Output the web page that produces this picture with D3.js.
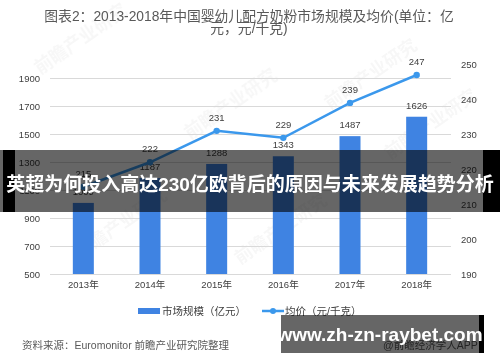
<!DOCTYPE html>
<html><head><meta charset="utf-8">
<script src="https://cdn.jsdelivr.net/npm/d3@7"></script>
<style>body{margin:0;background:#fff}svg{display:block}text{font-family:"Liberation Sans","Noto Sans CJK SC",sans-serif}</style>
</head><body>
<svg id="c" width="500" height="362"></svg>
<script>
const categories = ["2013年","2014年","2015年","2016年","2017年","2018年"];
const marketSize = [1009,1187,1288,1343,1487,1626];
const avgPrice = [215,222,231,229,239,247];
const leftTicks = [500,700,900,1100,1300,1500,1700,1900];
const rightTicks = [190,200,210,220,230,240,250];
const titleLines = ["图表2：2013-2018年中国婴幼儿配方奶粉市场规模及均价(单位：亿","元，元/千克)"];
const legendLabels = ["市场规模（亿元）","均价（元/千克）"];
const sourceText = "资料来源：Euromonitor 前瞻产业研究院整理";
const overlayText = "英超为何投入高达230亿欧背后的原因与未来发展趋势分析";
const siteText = "www.zh-zn-raybet.com";
const credit = "@前瞻经济学人APP";

const svg = d3.select("#c");
const barColor = "#3f83e2", lineColor = "#3b98ec", txt = "#404040";

const x = d3.scaleBand().domain(categories).range([50,450]).paddingInner(0.685).paddingOuter(0.3425);
const yL = d3.scaleLinear().domain([500,2000]).range([274,64.5]);
const yR = d3.scaleLinear().domain([190,250]).range([274,64.5]);

// faint watermarks
const wm = svg.append("g").attr("fill","#000").attr("opacity",0.035).attr("font-size",18).attr("font-weight","bold");
[[40,75],[190,140],[330,110],[80,260],[240,265],[390,160]].forEach(p=>{
  wm.append("text").attr("transform",`translate(${p[0]},${p[1]}) rotate(-35)`).text("前瞻产业研究");
});

// title
svg.append("g").selectAll("text").data(titleLines).join("text")
  .attr("x",249).attr("y",(d,i)=>21+i*12).attr("text-anchor","middle")
  .attr("font-size",13.8).attr("fill","#595959").text(d=>d);

// gridlines
svg.append("g").selectAll("line").data(leftTicks).join("line")
  .attr("x1",50).attr("x2",451).attr("y1",d=>Math.round(yL(d))+0.5).attr("y2",d=>Math.round(yL(d))+0.5)
  .attr("stroke","#d9d9d9").attr("stroke-width",1);

// left axis
const axL = svg.append("g").attr("transform","translate(44,0)")
  .call(d3.axisLeft(yL).tickValues(leftTicks).tickSize(0).tickPadding(4).tickFormat(d3.format("d")));
axL.select(".domain").remove();
axL.selectAll("text").attr("font-size",9.5).attr("fill",txt).attr("font-family","Liberation Sans");

// right axis
const axR = svg.append("g").attr("transform","translate(457,0)")
  .call(d3.axisRight(yR).tickValues(rightTicks).tickSize(0).tickPadding(4).tickFormat(d3.format("d")));
axR.select(".domain").remove();
axR.selectAll("text").attr("font-size",9.5).attr("fill",txt).attr("font-family","Liberation Sans");

// x axis
const axX = svg.append("g").attr("transform","translate(0,281)")
  .call(d3.axisBottom(x).tickSize(0).tickPadding(0));
axX.select(".domain").remove();
axX.selectAll("text").attr("font-size",9.5).attr("fill",txt).attr("dy","0.71em");

// bars
svg.append("g").selectAll("rect").data(marketSize).join("rect")
  .attr("x",(d,i)=>x(categories[i])).attr("width",x.bandwidth())
  .attr("y",d=>yL(d)).attr("height",d=>yL(500)-yL(d)).attr("fill",barColor);
svg.append("g").selectAll("text").data(marketSize).join("text")
  .attr("x",(d,i)=>x(categories[i])+x.bandwidth()/2).attr("y",d=>yL(d)-8)
  .attr("text-anchor","middle").attr("font-size",9.5).attr("fill",txt).text(d=>d);

// line
const cx = i=>x(categories[i])+x.bandwidth()/2;
svg.append("path").datum(avgPrice)
  .attr("d",d3.line().x((d,i)=>cx(i)).y(d=>yR(d)))
  .attr("fill","none").attr("stroke",lineColor).attr("stroke-width",2.5);
svg.append("g").selectAll("circle").data(avgPrice).join("circle")
  .attr("cx",(d,i)=>cx(i)).attr("cy",d=>yR(d)).attr("r",3.2).attr("fill",lineColor);
svg.append("g").selectAll("text").data(avgPrice).join("text")
  .attr("x",(d,i)=>cx(i)).attr("y",d=>yR(d)-10)
  .attr("text-anchor","middle").attr("font-size",9.5).attr("fill",txt).text(d=>d);

// legend
const lg = svg.append("g");
lg.append("rect").attr("x",138).attr("y",308).attr("width",22).attr("height",6).attr("fill",barColor);
lg.append("text").attr("x",162).attr("y",315).attr("font-size",10.5).attr("fill",txt).text(legendLabels[0]);
lg.append("line").attr("x1",262).attr("x2",284).attr("y1",311).attr("y2",311).attr("stroke",lineColor).attr("stroke-width",2.5);
lg.append("circle").attr("cx",273).attr("cy",311).attr("r",3).attr("fill",lineColor);
lg.append("text").attr("x",285).attr("y",315).attr("font-size",10.5).attr("fill",txt).text(legendLabels[1]);

// source
svg.append("text").attr("x",22).attr("y",349).attr("font-size",10.5).attr("fill","#595959").text(sourceText);
svg.append("text").attr("x",383).attr("y",349).attr("font-size",10.5).attr("fill","#595959").text(credit);

// overlay band
svg.append("rect").attr("x",0).attr("y",150).attr("width",500).attr("height",62).attr("fill","rgba(0,0,0,0.6)");
svg.append("rect").attr("x",3).attr("y",150).attr("width",12).attr("height",62).attr("fill","#000");
svg.append("rect").attr("x",483).attr("y",150).attr("width",17).attr("height",62).attr("fill","#000");
svg.append("text").attr("x",250).attr("y",191).attr("text-anchor","middle")
  .attr("font-size",19).attr("font-weight","bold").attr("fill","#fff")
  .attr("font-family","Noto Sans CJK SC").text(overlayText);

// bottom site box
svg.append("rect").attr("x",281).attr("y",315).attr("width",198).attr("height",38).attr("fill","rgba(0,0,0,0.6)");
svg.append("rect").attr("x",479).attr("y",315).attr("width",5).attr("height",38).attr("fill","#000");
svg.append("text").attr("x",380).attr("y",341).attr("text-anchor","middle")
  .attr("font-size",19).attr("font-weight","bold").attr("fill","#fff")
  .attr("font-family","Noto Sans CJK SC").text(siteText);
</script>
</body></html>
